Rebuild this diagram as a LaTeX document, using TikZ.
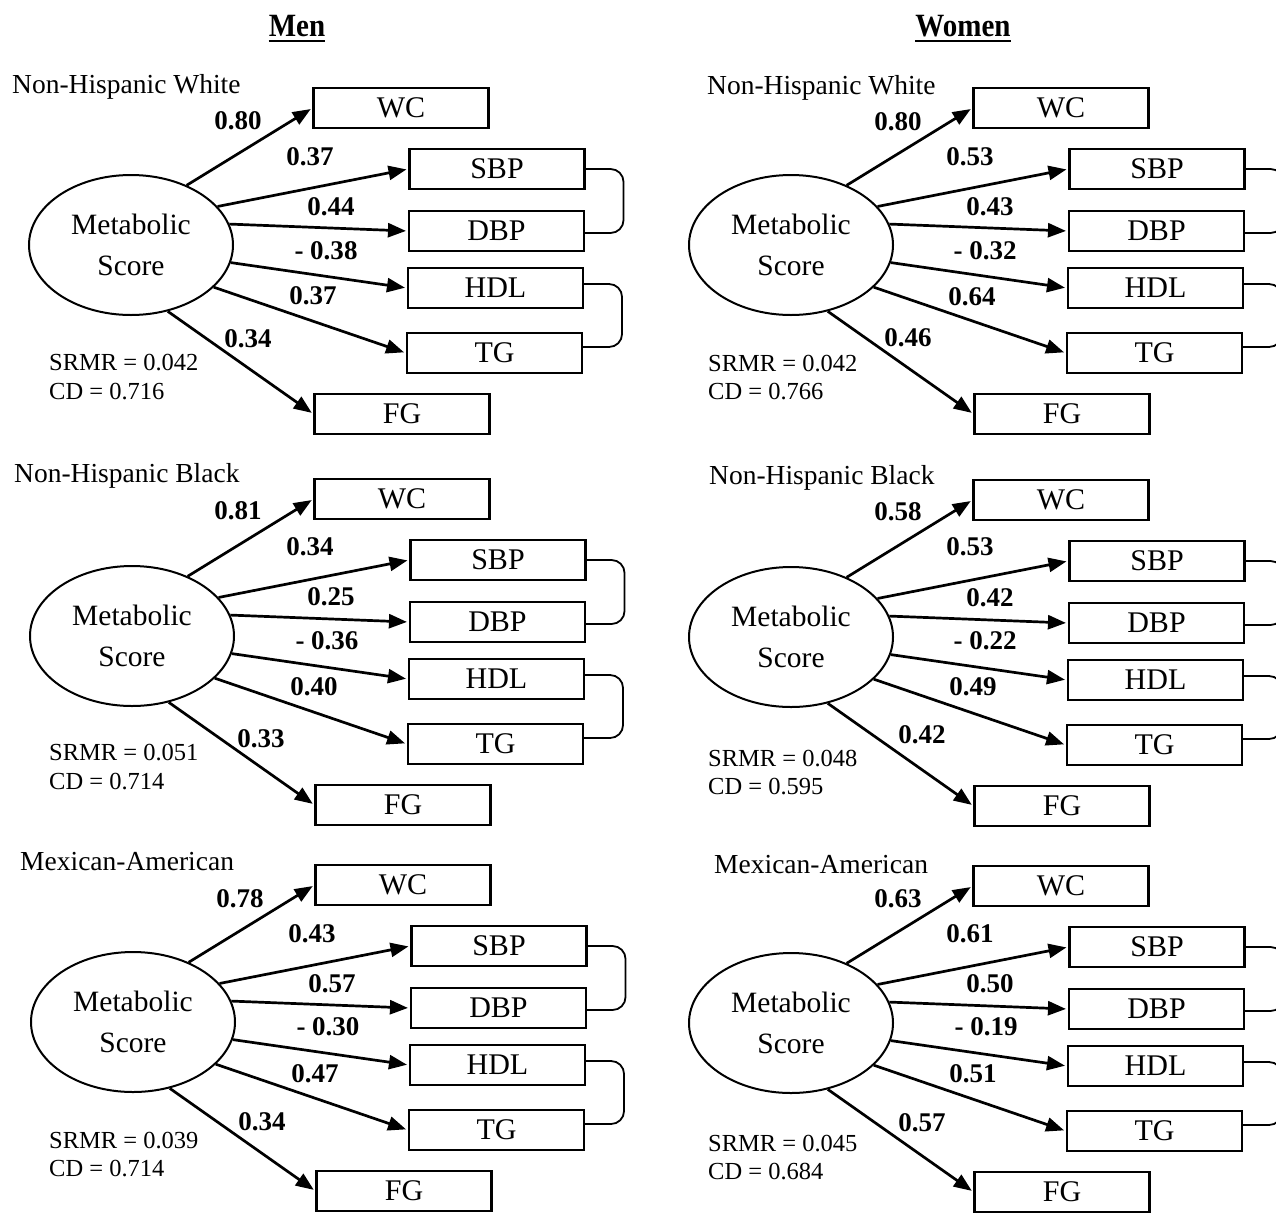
\documentclass[tikz,border=0pt]{standalone}
\usepackage{fontspec}
\setmainfont{Liberation Serif}
\usetikzlibrary{arrows.meta,calc,shapes.geometric}
\tikzset{
  box/.style={draw, line width=2.1pt, minimum width=175pt, minimum height=40pt, inner sep=0pt, font=\fontsize{30}{34}\selectfont},
  latent/.style={draw, ellipse, line width=2pt, minimum width=204pt, minimum height=140pt, inner sep=0pt, align=center, font=\fontsize{29.5}{41}\selectfont},
  loadarrow/.style={line width=2.7pt, -{Triangle[length=18pt,width=14pt]}, shorten >=2pt},
  corr/.style={line width=1.8pt, rounded corners=13pt},
  coef/.style={font=\bfseries\fontsize{27}{30}\selectfont, inner sep=0pt},
  grp/.style={font=\fontsize{27.5}{30}\selectfont, anchor=west, inner sep=0pt},
  fitstat/.style={font=\fontsize{24.5}{28}\selectfont, anchor=west, inner sep=0pt},
  head/.style={font=\bfseries\fontsize{29}{34}\selectfont, anchor=base, inner sep=0pt}
}
\newcommand\sempanel[3]{%
  \begin{scope}[shift={(#1,#2)}]
    \node[latent] (#3E) at (0,0) {Metabolic\\Score};
    \node[box] (#3WC) at (270,-137) {WC};
    \node[box] (#3SBP) at (366,-76) {SBP};
    \node[box] (#3DBP) at (365.5,-14) {DBP};
    \node[box] (#3HDL) at (364.5,43) {HDL};
    \node[box] (#3TG) at (363.5,108) {TG};
    \node[box] (#3FG) at (271,169) {FG};
    \draw[loadarrow] (#3E.47) -- (#3WC.west);
    \draw[loadarrow] (#3E.24) -- (#3SBP.west);
    \draw[loadarrow] (#3E.12) -- (#3DBP.west);
    \draw[loadarrow] (#3E.-10) -- (#3HDL.west);
    \draw[loadarrow] (#3E.-27) -- (#3TG.west);
    \draw[loadarrow] (#3E.-61) -- (#3FG.west);
    \draw[corr] (#3SBP.east) -- ++(38,0) |- ($(#3DBP.east)+(0,2)$);
    \draw[corr] ($(#3HDL.east)+(0,-4)$) -- ++(38,0) |- ($(#3TG.east)+(0,-6)$);
  \end{scope}}
\begin{document}
\begin{tikzpicture}[x=1pt,y=-1pt]
\useasboundingbox (0,0) rectangle (1276,1213);
% headers
\node[head] (hmen) at (297,36) {\scalebox{1}[1.12]{Men}};
\node[head] (hwomen) at (963,36) {\scalebox{1}[1.12]{Women}};
\draw[line width=2.8pt] ($(hmen.base west)+(0,5)$) -- ($(hmen.base east)+(0,5)$);
\draw[line width=2.8pt] ($(hwomen.base west)+(0,5)$) -- ($(hwomen.base east)+(0,5)$);

% ---------- Men ----------
\sempanel{131}{245}{ma}
\node[grp] (tma) at (12,87) {Non-Hispanic White};
\node[coef] (ma1) at (238,121) {0.80};
\node[coef] (ma2) at (310,157) {0.37};
\node[coef] (ma3) at (331,207) {0.44};
\node[coef] (ma4) at (326,251) {- 0.38};
\node[coef] (ma5) at (313,296) {0.37};
\node[coef] (ma6) at (248,339) {0.34};
\node[fitstat] (sma) at (49,363) {SRMR = 0.042};
\node[fitstat] (cma) at (49,392) {CD = 0.716};

\sempanel{132}{636}{mb}
\node[grp] (tmb) at (14,476) {Non-Hispanic Black};
\node[coef] (mb1) at (238,511) {0.81};
\node[coef] (mb2) at (310,547) {0.34};
\node[coef] (mb3) at (331,597) {0.25};
\node[coef] (mb4) at (327,641) {- 0.36};
\node[coef] (mb5) at (314,687) {0.40};
\node[coef] (mb6) at (261,739) {0.33};
\node[fitstat] (smb) at (49,753) {SRMR = 0.051};
\node[fitstat] (cmb) at (49,782) {CD = 0.714};

\sempanel{133}{1022}{mc}
\node[grp] (tmc) at (20,862) {Mexican-American};
\node[coef] (mc1) at (240,899) {0.78};
\node[coef] (mc2) at (312,934) {0.43};
\node[coef] (mc3) at (332,984) {0.57};
\node[coef] (mc4) at (328,1027) {- 0.30};
\node[coef] (mc5) at (315,1074) {0.47};
\node[coef] (mc6) at (262,1122) {0.34};
\node[fitstat] (smc) at (49,1141) {SRMR = 0.039};
\node[fitstat] (cmc) at (49,1169) {CD = 0.714};

% ---------- Women ----------
\sempanel{791}{245}{wa}
\node[grp] (twa) at (707,88) {Non-Hispanic White};
\node[coef] (wa1) at (898,122) {0.80};
\node[coef] (wa2) at (970,157) {0.53};
\node[coef] (wa3) at (990,207) {0.43};
\node[coef] (wa4) at (985,251) {- 0.32};
\node[coef] (wa5) at (972,297) {0.64};
\node[coef] (wa6) at (908,338) {0.46};
\node[fitstat] (swa) at (708,364) {SRMR = 0.042};
\node[fitstat] (cwa) at (708,392) {CD = 0.766};

\sempanel{791}{637}{wb}
\node[grp] (twb) at (709,478) {Non-Hispanic Black};
\node[coef] (wb1) at (898,512) {0.58};
\node[coef] (wb2) at (970,547) {0.53};
\node[coef] (wb3) at (990,598) {0.42};
\node[coef] (wb4) at (985,641) {- 0.22};
\node[coef] (wb5) at (973,687) {0.49};
\node[coef] (wb6) at (922,735) {0.42};
\node[fitstat] (swb) at (708,759) {SRMR = 0.048};
\node[fitstat] (cwb) at (708,787) {CD = 0.595};

\sempanel{791}{1023}{wc}
\node[grp] (twc) at (714,865) {Mexican-American};
\node[coef] (wc1) at (898,899) {0.63};
\node[coef] (wc2) at (970,934) {0.61};
\node[coef] (wc3) at (990,984) {0.50};
\node[coef] (wc4) at (986,1027) {- 0.19};
\node[coef] (wc5) at (973,1074) {0.51};
\node[coef] (wc6) at (922,1123) {0.57};
\node[fitstat] (swc) at (708,1144) {SRMR = 0.045};
\node[fitstat] (cwc) at (708,1172) {CD = 0.684};
\end{tikzpicture}
\end{document}
